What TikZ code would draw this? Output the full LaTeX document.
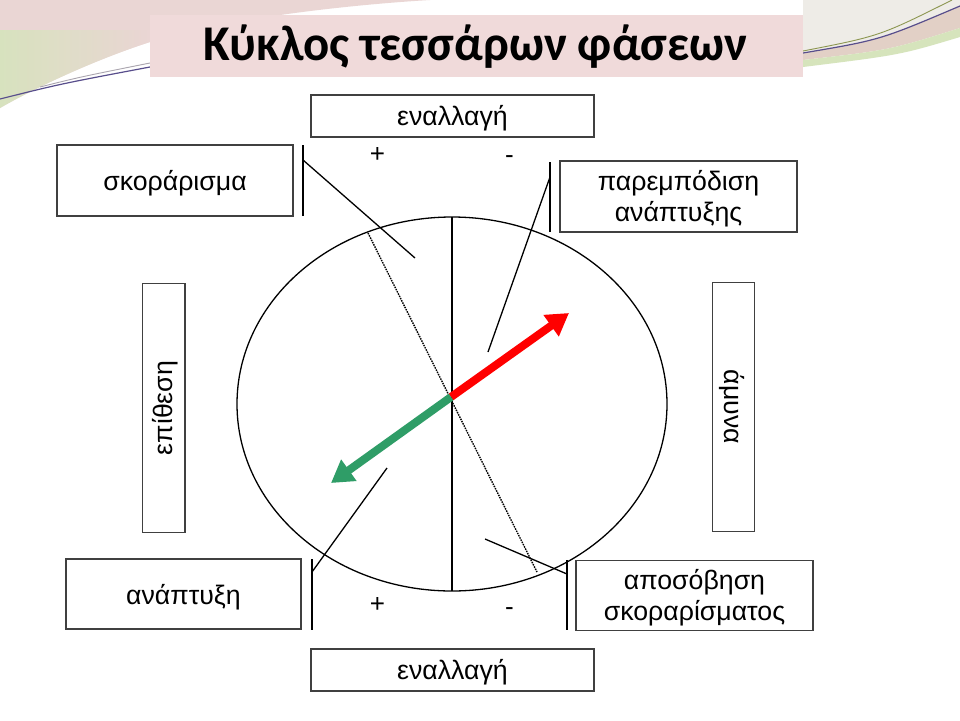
\documentclass[tikz,border=0pt]{standalone}
\usepackage{fontspec}
\setmainfont{Liberation Sans}
\newfontfamily\titlefont{Carlito}
\usetikzlibrary{arrows.meta,shapes.geometric}
\definecolor{titlepink}{RGB}{240,218,218}
\definecolor{boxline}{RGB}{64,64,64}
\definecolor{arrgreen}{RGB}{47,157,103}
\definecolor{arrred}{RGB}{255,0,0}
\definecolor{decopink}{RGB}{234,214,212}
\definecolor{decogreen}{RGB}{214,228,188}
\definecolor{decopurple}{RGB}{88,78,140}
\definecolor{decogrey}{RGB}{170,165,175}
\definecolor{decobeige}{RGB}{238,236,231}
\definecolor{decobrown}{RGB}{226,208,198}
\definecolor{decoline}{RGB}{140,150,80}
\begin{document}
\begin{tikzpicture}[x=1pt,y=-1pt,
  framebox/.style={draw=boxline, line width=1.3pt, inner sep=0pt, outer sep=0pt},
  boxtext/.style={inner sep=0pt, font=\fontsize{26.7}{31}\selectfont, align=center},
  thinline/.style={draw=black, line width=1.3pt},
  sign/.style={font=\fontsize{26}{30}\selectfont, inner sep=0pt}]
\useasboundingbox (0,0) rectangle (960,720);
\fill[white] (0,0) rectangle (960,720);
% decoration top-left
\fill[decopink] (0,0) -- (430,0) .. controls (330,6) and (210,22) .. (150,42)
  .. controls (100,58) and (40,85) .. (0,108) -- cycle;
\shade[left color=decogreen, right color=decopink, opacity=0.9]
  (0,30) -- (150,30) -- (150,42)
  .. controls (100,58) and (40,85) .. (0,108) -- cycle;
\draw[decogrey, line width=0.9pt] (40,87) .. controls (80,77) .. (150,63);
\draw[decopurple, line width=1.2pt] (0,99) .. controls (60,84) .. (150,67);
% decoration top-right
\fill[decobeige] (803,0) -- (960,0) -- (960,6) .. controls (880,40) .. (803,53) -- cycle;
\fill[decobrown] (803,53) .. controls (880,40) .. (960,6) -- (960,28) .. controls (890,50) .. (803,60) -- cycle;
\fill[decogreen] (803,60) .. controls (890,50) .. (960,28) -- (960,37) .. controls (900,55) .. (803,67) -- cycle;
\draw[decoline, line width=0.9pt] (803,51) .. controls (880,36) .. (952,0);
\draw[decopurple, line width=1.2pt] (803,53) .. controls (880,40) .. (960,6);
% title
\node[fill=titlepink, minimum width=653, minimum height=62, inner sep=0pt] (title) at (476.5,46) {};
\node[anchor=base west, inner sep=0pt] (titletext) at (203,60)
  {\resizebox{544pt}{\height}{\titlefont\bfseries\fontsize{50}{54}\selectfont Κύκλος τεσσάρων φάσεων}};
% boxes
\node[framebox, minimum width=283, minimum height=42] (topalt) at (452.5,116) {};
\node[boxtext] (topaltt) at ([yshift=-2.5pt]topalt.center) {εναλλαγή};
\node[framebox, minimum width=283, minimum height=42] (botalt) at (452.5,670) {};
\node[boxtext] (botaltt) at ([yshift=-2.5pt]botalt.center) {εναλλαγή};
\node[framebox, minimum width=236, minimum height=71] (score) at (175,180.5) {};
\node[boxtext] (scoret) at ([yshift=-3pt]score.center) {σκοράρισμα};
\node[framebox, minimum width=237, minimum height=71] (hinder) at (678.5,196.5) {};
\node[boxtext] (hindert) at ([yshift=-2pt]hinder.center) {παρεμπόδιση\\ανάπτυξης};
\node[framebox, minimum width=235, minimum height=70] (develop) at (183.5,594) {};
\node[boxtext] (developt) at ([yshift=-3pt]develop.center) {ανάπτυξη};
\node[framebox, minimum width=237, minimum height=70] (avert) at (694.5,595.5) {};
\node[boxtext] (avertt) at ([yshift=-2pt]avert.center) {αποσόβηση\\σκοραρίσματος};
\node[framebox, minimum width=42.7, minimum height=249.5] (attack) at (163.5,408) {};
\node[boxtext, rotate=90] (attackt) at ([xshift=2pt]attack.center) {επίθεση};
\node[framebox, minimum width=42.4, minimum height=249.5] (defence) at (733.5,407) {};
\node[boxtext, rotate=-90] (defencet) at ([xshift=-2pt]defence.center) {άμυνα};
% signs
\node[sign] (plustop) at (377.5,154.5) {+};
\node[sign] (minustop) at (509.5,160) {-};
\node[sign] (plusbot) at (377.5,605) {+};
\node[sign] (minusbot) at (509.5,612) {-};
% ellipse and axes
\node[draw=black, line width=1.3pt, ellipse, minimum width=430, minimum height=374, inner sep=0pt, outer sep=0pt] (circ) at (452,404) {};
\draw[thinline] (circ.north) -- (circ.south);
\coordinate (dtop) at (368,233);
\coordinate (dbot) at (537,572);
\draw[black, line width=1.4pt, dash pattern=on 1.5pt off 1pt] (dtop) -- (dbot);
% bars and leader lines
\coordinate (b1t) at (303,145); \coordinate (b1b) at (303,216);
\draw[thinline] (b1t) -- (b1b);
\coordinate (l1a) at (303,160); \coordinate (l1b) at (415,258);
\draw[thinline] (l1a) -- (l1b);
\coordinate (b2t) at (550,162); \coordinate (b2b) at (550,232);
\draw[thinline] (b2t) -- (b2b);
\coordinate (l2a) at (550,177); \coordinate (l2b) at (488,352);
\draw[thinline] (l2a) -- (l2b);
\coordinate (b3t) at (312,559); \coordinate (b3b) at (312,630);
\draw[thinline] (b3t) -- (b3b);
\coordinate (l3a) at (387,468); \coordinate (l3b) at (312,572);
\draw[thinline] (l3a) -- (l3b);
\coordinate (b4t) at (567,560); \coordinate (b4b) at (567,630);
\draw[thinline] (b4t) -- (b4b);
\coordinate (l4a) at (485,539); \coordinate (l4b) at (567,574);
\draw[thinline] (l4a) -- (l4b);
% arrows
\coordinate (ctr) at (451,397);
\coordinate (rtip) at (569,313);
\coordinate (gtip) at (331,483);
\draw[arrred, line width=8pt, -{Triangle[length=22pt,width=25pt]}] (ctr) -- (rtip);
\draw[arrgreen, line width=8pt, -{Triangle[length=22pt,width=25pt]}] (ctr) -- (gtip);
\end{tikzpicture}
\end{document}
